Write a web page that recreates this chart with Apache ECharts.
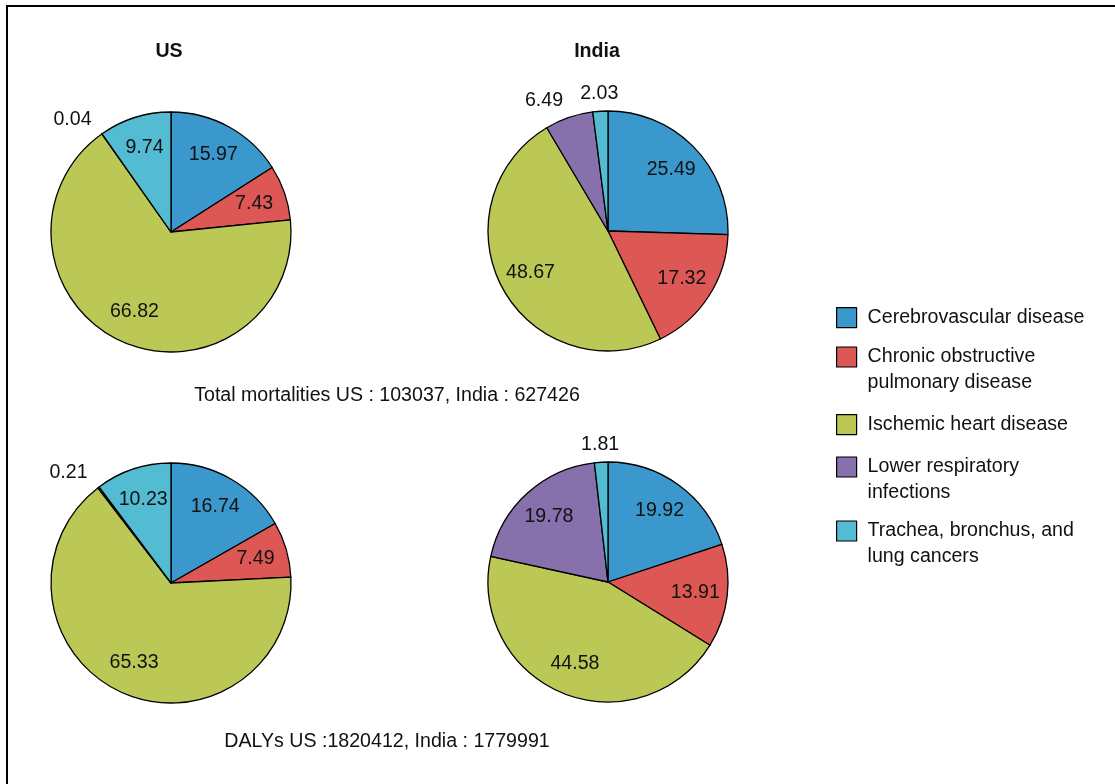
<!DOCTYPE html>
<html>
<head>
<meta charset="utf-8">
<title>Leading causes of mortality and DALYs: US vs India</title>
<script src="https://cdn.jsdelivr.net/npm/echarts@6/dist/echarts.min.js"></script>
<style>
  html, body { margin: 0; padding: 0; background: #fff; }
  #chart { width: 1115px; height: 784px; }
</style>
</head>
<body>
<div id="chart"></div>
<script>
// Causes, in the clockwise order of the slices (starting at 12 o'clock)
const categories = [
  'Cerebrovascular disease',
  'Chronic obstructive pulmonary disease',
  'Ischemic heart disease',
  'Lower respiratory infections',
  'Trachea, bronchus, and lung cancers'
];
// Legend text, wrapped the way it is printed
const legendLabels = [
  'Cerebrovascular disease',
  'Chronic obstructive\npulmonary disease',
  'Ischemic heart disease',
  'Lower respiratory\ninfections',
  'Trachea, bronchus, and\nlung cancers'
];
const colors = ['#3a98cc', '#dd5854', '#bcc856', '#8671ad', '#53bcd2'];

// Share of total (%) per cause
const usMortality    = [15.97, 7.43, 66.82, 0.04, 9.74];
const indiaMortality = [25.49, 17.32, 48.67, 6.49, 2.03];
const usDalys        = [16.74, 7.49, 65.33, 0.21, 10.23];
const indiaDalys     = [19.92, 13.91, 44.58, 19.78, 1.81];

const panelTitles = ['US', 'India'];
const captions = [
  'Total mortalities US : 103037, India : 627426',
  'DALYs US :1820412, India : 1779991'
];

// Slices smaller than this get their value printed outside the pie
const OUTSIDE_BELOW = 7;

const FONT = '"Liberation Sans", Arial, Helvetica, sans-serif';
const FS = 19.6;
const R = 120;

const pies = [
  { values: usMortality,    center: [171, 232] },
  { values: indiaMortality, center: [608, 231] },
  { values: usDalys,        center: [171, 583] },
  { values: indiaDalys,     center: [608, 582] }
];

const labelStyle = {
  position: 'inside',
  color: '#111',
  fontFamily: FONT,
  fontSize: FS,
  formatter: p => p.value.toFixed(2)
};

const series = [];
// colored pies first
pies.forEach(p => {
  series.push({
    type: 'pie',
    center: p.center,
    radius: [0, R],
    startAngle: 90,
    clockwise: true,
    silent: true,
    animation: false,
    label: { show: false },
    labelLine: { show: false },
    itemStyle: { borderColor: '#000', borderWidth: 1.3 },
    data: categories.map((name, i) => ({
      name, value: p.values[i], itemStyle: { color: colors[i] }
    }))
  });
});
// value labels: an invisible ring inside the pie for big slices, one outside it for small slices
pies.forEach(p => {
  [[50, R, v => v >= OUTSIDE_BELOW, false], [R, R + 30, v => v < OUTSIDE_BELOW, true]]
    .forEach(([r0, r1, keep, outer]) => {
      const s = {
        type: 'pie',
        center: p.center,
        radius: [r0, r1],
        startAngle: 90,
        clockwise: true,
        silent: true,
        animation: false,
        itemStyle: { color: 'rgba(0,0,0,0)', borderWidth: 0 },
        labelLine: { show: false },
        label: labelStyle,
        data: categories.map((name, i) => ({
          name, value: p.values[i], label: { show: keep(p.values[i]) }
        }))
      };
      if (outer) {
        // labels well to the left of the pie's axis end at their anchor instead of centring on it
        s.labelLayout = params => {
          const r = params.labelRect;
          const cx = r.x + r.width / 2;
          return cx - p.center[0] < -25 ? { dx: -r.width / 2 } : {};
        };
      }
      series.push(s);
    });
});

// one legend block per cause, so two-line entries keep their swatch on the first line
const legendIconCenters = [317, 357, 424, 467, 531];
const legends = categories.map((name, i) => {
  const twoLine = legendLabels[i].indexOf('\n') >= 0;
  return {
    orient: 'vertical',
    left: 836,
    top: legendIconCenters[i] - (twoLine ? 39 : 10),
    padding: 0,
    itemWidth: 20,
    itemHeight: 20,
    icon: 'rect',
    selectedMode: false,
    itemStyle: { borderColor: '#000', borderWidth: 1.2 },
    // a leading blank line moves a wrapped entry's first line level with the swatch
    formatter: () => (twoLine ? '\n' : '') + legendLabels[i],
    textStyle: {
      fontFamily: FONT,
      fontSize: FS,
      color: '#111',
      lineHeight: twoLine ? 26 : 20,
      padding: [0, 0, 0, 6]
    },
    data: [{ name }]
  };
});

const textEl = (text, x, y, bold) => ({
  type: 'text',
  x, y,
  style: {
    text,
    fill: '#111',
    font: (bold ? 'bold ' : '') + FS + 'px ' + FONT,
    align: 'center',
    verticalAlign: 'middle'
  }
});

const option = {
  backgroundColor: '#fff',
  animation: false,
  legend: legends,
  series,
  graphic: [
    {
      type: 'rect',
      shape: { x: 7, y: 6, width: 1200, height: 900 },
      style: { fill: 'none', stroke: '#000', lineWidth: 2 },
      silent: true
    },
    textEl(panelTitles[0], 169, 52, true),
    textEl(panelTitles[1], 597, 52, true),
    textEl(captions[0], 387, 396, false),
    textEl(captions[1], 387, 742, false)
  ]
};

const chart = echarts.init(document.getElementById('chart'), null, { renderer: 'canvas' });
chart.setOption(option);
</script>
</body>
</html>
